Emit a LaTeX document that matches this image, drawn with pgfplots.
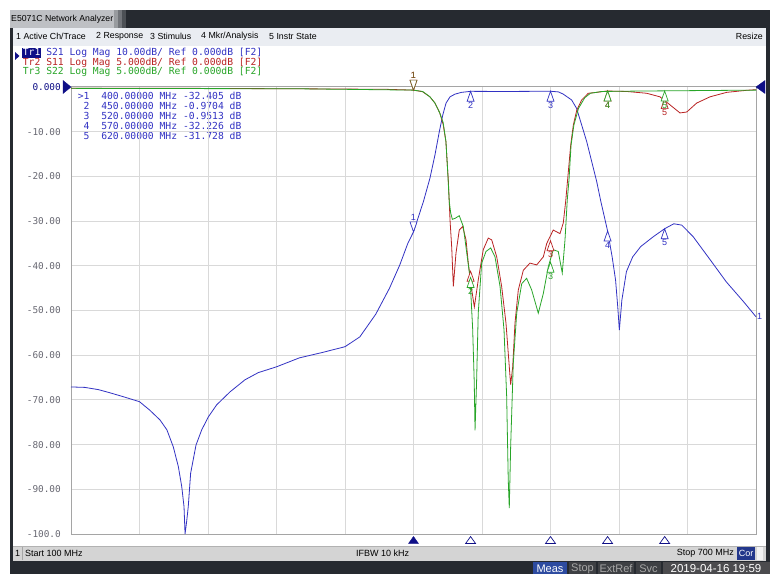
\documentclass[border=0pt]{standalone}
\usepackage{pgfplots}
\pgfplotsset{compat=1.18}
\usepackage{fontspec}
\setmainfont{Liberation Sans}
\newfontfamily\monofont{DejaVu Sans Mono}
\newcommand\hdr{\monofont\fontsize{9.7}{10}\selectfont}
\newcommand\mkfont{\fontsize{9}{9}\selectfont}
\definecolor{tblue}{RGB}{50,50,195}
\definecolor{tred}{RGB}{185,35,35}
\definecolor{tgreen}{RGB}{40,165,40}
\definecolor{navy}{RGB}{15,15,135}
\definecolor{gridc}{RGB}{217,217,217}
\definecolor{framec}{RGB}{165,165,165}
\definecolor{winframe}{RGB}{38,42,48}
\definecolor{titlelight}{RGB}{190,192,196}
\definecolor{menubg}{RGB}{234,237,242}
\definecolor{statbg}{RGB}{212,212,212}
\definecolor{ticklab}{RGB}{105,105,115}
\definecolor{measbl}{RGB}{45,75,160}
\definecolor{corbl}{RGB}{35,55,140}
\definecolor{boxgray}{RGB}{62,64,68}
\definecolor{datebox}{RGB}{75,75,78}
\pgfdeclareplotmark{mkup}{%
 \pgfpathmoveto{\pgfqpoint{0pt}{0pt}}%
 \pgfpathlineto{\pgfqpoint{-3.5pt}{-10pt}}%
 \pgfpathlineto{\pgfqpoint{3.5pt}{-10pt}}%
 \pgfpathclose\pgfusepathqfillstroke}
\pgfdeclareplotmark{mkdown}{%
 \pgfpathmoveto{\pgfqpoint{0pt}{0pt}}%
 \pgfpathlineto{\pgfqpoint{-3.5pt}{10pt}}%
 \pgfpathlineto{\pgfqpoint{3.5pt}{10pt}}%
 \pgfpathclose\pgfusepathqfillstroke}
\pgfdeclareplotmark{refR}{%
 \pgfpathmoveto{\pgfqpoint{0pt}{0pt}}%
 \pgfpathlineto{\pgfqpoint{-8pt}{6.5pt}}%
 \pgfpathlineto{\pgfqpoint{-8pt}{-6.5pt}}%
 \pgfpathclose\pgfusepathqfillstroke}
\pgfdeclareplotmark{refL}{%
 \pgfpathmoveto{\pgfqpoint{0pt}{0pt}}%
 \pgfpathlineto{\pgfqpoint{9pt}{6.5pt}}%
 \pgfpathlineto{\pgfqpoint{9pt}{-6.5pt}}%
 \pgfpathclose\pgfusepathqfillstroke}
\pgfdeclareplotmark{btri}{%
 \pgfpathmoveto{\pgfqpoint{0pt}{3.5pt}}%
 \pgfpathlineto{\pgfqpoint{-5pt}{-3.5pt}}%
 \pgfpathlineto{\pgfqpoint{5pt}{-3.5pt}}%
 \pgfpathclose\pgfusepathqfillstroke}
\pgfplotsset{
 mkbelow/.style={only marks, mark=mkup, mark options={draw=#1, fill=white, line width=0.7pt},
   point meta=explicit symbolic, nodes near coords,
   every node near coord/.append style={anchor=north, yshift=-10.5pt, font=\mkfont, text=#1, inner sep=0pt}},
 mkabove/.style={only marks, mark=mkdown, mark options={draw=#1, fill=white, line width=0.7pt},
   point meta=explicit symbolic, nodes near coords,
   every node near coord/.append style={anchor=south, yshift=11pt, font=\mkfont, text=#1, inner sep=0pt}},
}
\begin{document}
\begin{tikzpicture}[x=1pt,y=1pt]
\useasboundingbox (0,0) rectangle (774,574);
\fill[white] (0,0) rectangle (774,574);
% window frame
\fill[winframe] (10,0) rectangle (770,564);
\fill[titlelight] (10,546) rectangle (114,564);
\fill[titlelight!75!winframe] (114,546) rectangle (118,564);
\fill[titlelight!50!winframe] (118,546) rectangle (122,564);
\fill[titlelight!25!winframe] (122,546) rectangle (126,564);
\node[anchor=west, inner sep=0pt, font=\fontsize{8.7}{9}\selectfont] at (11,555) {E5071C Network Analyzer};
% menu
\fill[menubg] (13,528) rectangle (766,546);
\draw[gray!60] (13,528) -- (766,528);
\begin{scope}[every node/.style={anchor=west, inner sep=0pt, font=\fontsize{8.8}{9}\selectfont}]
\node at (16,537.5) {1 Active Ch/Trace};
\node at (96,537.5) {2 Response};
\node at (150,537.5) {3 Stimulus};
\node at (201,537.5) {4 Mkr/Analysis};
\node at (269,537.5) {5 Instr State};
\node[anchor=east] at (763,537.5) {Resize};
\end{scope}
% white content
\fill[white] (13,28) rectangle (766,528);
% status bar
\fill[statbg] (13,13) rectangle (766,28);
\draw[gray!60] (13,28) -- (766,28);
\draw[gray!70] (22,14) -- (22,27);
\begin{scope}[every node/.style={inner sep=0pt, font=\fontsize{9}{9}\selectfont}]
\node[anchor=west] at (15,20.5) {1};
\node[anchor=west] at (25,20.5) {Start 100 MHz};
\node[anchor=west] at (356,20.5) {IFBW 10 kHz};
\node[anchor=east] at (734,20.5) {Stop 700 MHz};
\fill[corbl] (737,14) rectangle (755,27);
\node[text=white] at (746,20.5) {Cor};
\fill[white!90!gray] (757,14) rectangle (763,27);
\end{scope}
% bottom bar
\begin{scope}[every node/.style={inner sep=0pt, font=\fontsize{11}{11}\selectfont}]
\fill[measbl] (533,0) rectangle (567,12.5);
\node[text=white] at (550,5.5) {Meas};
\fill[boxgray] (569,0) rectangle (596,12.5);
\node[text=gray!70] at (582.5,5.5) {Stop};
\fill[boxgray] (598,0) rectangle (634,12.5);
\node[text=gray!70] at (616,5.5) {ExtRef};
\fill[boxgray] (636,0) rectangle (661,12.5);
\node[text=gray!70] at (648.5,5.5) {Svc};
\fill[datebox] (663,0) rectangle (770,12.5);
\node[text=white, font=\fontsize{11.5}{12}\selectfont] at (716,5) {2019-04-16 19:59};
\end{scope}
% trace header
\fill[navy] (15,514) -- (15,522) -- (19.5,518) -- cycle;
\fill[navy] (21.5,516) rectangle (41.2,525.5);
\node[anchor=base west, inner sep=0pt, font=\hdr, text=tblue] at (22.7,518) {\textcolor{white}{Tr1}~S21~Log~Mag~10.00dB/~Ref~0.000dB~[F2]};
\node[anchor=base west, inner sep=0pt, font=\hdr, text=tred] at (22.7,508.5) {Tr2~S11~Log~Mag~5.000dB/~Ref~0.000dB~[F2]};
\node[anchor=base west, inner sep=0pt, font=\hdr, text=tgreen] at (22.7,499.5) {Tr3~S22~Log~Mag~5.000dB/~Ref~0.000dB~[F2]};
% marker table
\begin{scope}[every node/.style={anchor=base west, inner sep=0pt, font=\hdr, text=tblue}]
\node at (77.7,474) {>1~~400.00000~MHz~-32.405~dB};
\node at (77.7,464.2) {~2~~450.00000~MHz~-0.9704~dB};
\node at (77.7,454.4) {~3~~520.00000~MHz~-0.9513~dB};
\node at (77.7,444.6) {~4~~570.00000~MHz~-32.226~dB};
\node at (77.7,434.8) {~5~~620.00000~MHz~-31.728~dB};
\end{scope}

\begin{axis}[at={(71pt,40pt)}, anchor=south west, width=685pt, height=447pt, scale only axis,
 xmin=100, xmax=700, ymin=-100, ymax=0,
 xtick={100,160,...,700}, ytick={-100,-90,...,0},
 xticklabels={},
 yticklabels={-100.0,-90.00,-80.00,-70.00,-60.00,-50.00,-40.00,-30.00,-20.00,-10.00,\textcolor{navy}{0.000}},
 yticklabel style={font=\monofont\fontsize{9.4}{10}\selectfont, text=ticklab, anchor=east, inner sep=0pt, xshift=-10pt},
 grid=major, grid style={gridc, line width=1pt},
 axis line style={draw=framec, line width=1pt},
 major tick length=0pt, clip=false]
\addplot[tblue, line width=0.8pt] table {
100 -67.1
112 -67.2
124 -67.7
134 -68.4
146 -69.3
160 -70.4
169 -72.3
178 -74.5
184 -76.7
189.6 -80.5
194 -84.9
197 -89.4
199 -93.9
199.9 -100
201.3 -97.2
202.7 -93.9
204.8 -86.4
209.5 -80.1
214.5 -76.7
220.3 -73.8
227.6 -71.1
239.3 -68.2
252.4 -65.5
264 -63.9
280 -62.6
300 -60.6
320 -59.4
340 -58.1
353 -55.9
367 -50.8
379 -45.0
388 -39.8
395 -35.0
400 -32.4
408.6 -25.7
414.4 -20.4
418.8 -15.2
422.6 -10.0
425.6 -6.3
428.5 -3.6
432 -2.2
436.3 -1.6
442 -1.2
450 -0.97
480 -1.0
520 -0.95
527 -1.1
531.2 -1.6
538.5 -2.9
542.9 -4.8
547.3 -8.5
551.7 -12.2
556.1 -16.7
560.5 -21.2
564 -25.5
570 -32.2
574 -38.0
577 -43.2
579 -49.5
580.3 -54.4
582.5 -47.7
586.5 -41.3
592 -38.0
599 -35.7
610 -33.5
620 -31.7
628 -30.6
635 -30.9
645 -33.5
660 -38.7
674 -43.6
689 -48.0
700 -51.4
};
\addplot[mkbelow=tblue] coordinates {(450,-0.9704)[2] (520,-0.9513)[3] (570,-32.226)[4] (620,-31.728)[5]};
\addplot[mkabove=tblue] coordinates {(400,-32.405)[1]};
\addplot[draw=none, mark=none, point meta=explicit symbolic, nodes near coords,
  every node near coord/.append style={anchor=west, xshift=1pt, font=\mkfont, text=tblue, inner sep=0pt}] coordinates {(700,-51.4)[1]};
\addplot[only marks, mark=refR, mark options={draw=navy, fill=navy}] coordinates {(100,0)};
\addplot[only marks, mark=refL, mark options={draw=navy, fill=navy}] coordinates {(700,0)};
\addplot[only marks, mark=btri, mark options={draw=navy, fill=navy}] coordinates {(400,-101.35)};
\addplot[only marks, mark=btri, mark options={draw=navy, fill=white, line width=0.7pt}] coordinates {(450,-101.35) (520,-101.35) (570,-101.35) (620,-101.35)};
\end{axis}

\begin{axis}[at={(71pt,40pt)}, anchor=south west, width=685pt, height=447pt, scale only axis,
 xmin=100, xmax=700, ymin=-50, ymax=0, hide axis, clip=false]
\addplot[tred, line width=0.8pt] table {
100 -0.15
200 -0.15
300 -0.2
376 -0.26
400 -0.35
408 -0.53
414.4 -1.1
418.8 -1.8
423 -2.9
426 -4.2
428.4 -6.1
429.8 -9.1
430.5 -10.4
431.3 -12.8
432 -14.9
433.5 -18
434.9 -22.3
437.2 -18.6
440.1 -16.0
443.1 -15.6
446 -17.1
448 -19.7
451 -22.7
453.3 -24.6
456.7 -21.6
461.1 -18.2
465.5 -16.9
468.5 -17.1
472.9 -19.0
477.2 -22.3
481 -26.4
483.9 -31.3
485.1 -33.3
486.9 -31.3
488.9 -26.4
491.8 -22.7
496.2 -20.5
502 -19.7
507.9 -19.9
513.7 -19.0
516.7 -17.5
522.4 -16.0
528.3 -16.4
531.2 -15.2
533.3 -12.8
535.6 -9.5
537.7 -6.5
540 -4.25
543 -2.6
547.3 -1.45
553.1 -0.7
560.5 -0.6
569.2 -0.45
586.7 -0.5
604.2 -0.7
615.9 -1.1
624.7 -2.0
633.4 -2.9
639.3 -2.8
648 -1.8
659.7 -1.1
674.3 -0.6
691.8 -0.37
700 -0.3
};
\addplot[tgreen, line width=0.8pt] table {
100 -0.15
300 -0.2
400 -0.35
408 -0.5
414.4 -1.1
418.8 -1.8
423 -2.9
426 -4.0
428.4 -6.1
429.8 -9.1
431.3 -12.8
432.6 -14.1
434 -14.8
436.3 -14.7
440.1 -14.4
443.6 -15.6
447.1 -19.0
449.5 -21.3
451.8 -27.0
453.2 -33
453.9 -38.4
455.3 -32.8
456.7 -25.3
459.7 -19.7
463.5 -18.4
467.6 -18.0
471.4 -19.0
475.8 -22.3
479.3 -27.2
481.6 -34.6
483 -44.0
483.9 -47.1
485.1 -40.2
487.4 -30.9
490.4 -25.3
494.8 -22.0
499.1 -21.4
503.5 -22.7
509.3 -25.3
513.7 -23.1
518.1 -20.1
522.4 -18.2
526.8 -18.4
530.3 -20.8
532.7 -17.1
534.7 -12.6
536.2 -10.4
538 -6.5
540.5 -4.25
544.5 -2.4
550 -1.2
555 -0.7
565 -0.5
600 -0.45
700 -0.35
};
\addplot[mkbelow=tred] coordinates {(450,-20.6)[2] (520,-17.2)[3] (570,-0.45)[4] (620,-1.3)[5]};
\addplot[mkbelow=tgreen] coordinates {(450,-21.3)[2] (520,-19.6)[3] (570,-0.45)[4] (620,-0.45)[5]};
\addplot[mkabove=tred] coordinates {(400,-0.35)[1]};
\addplot[mkabove=tgreen!50!tred] coordinates {(400,-0.35)[1]};
\end{axis}
\end{tikzpicture}
\end{document}
